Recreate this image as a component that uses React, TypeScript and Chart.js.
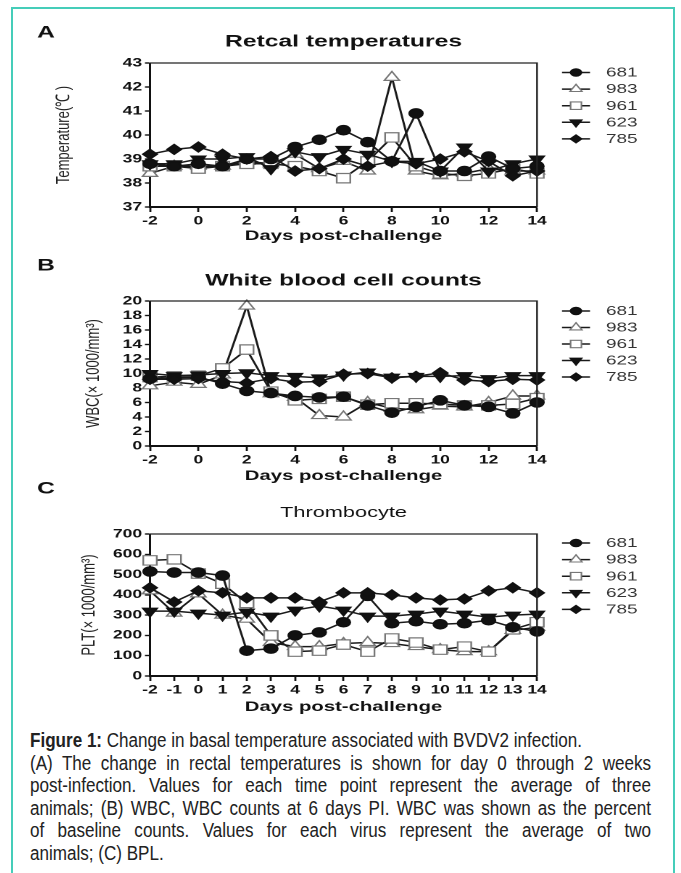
import React, { useEffect, useRef } from 'react';
import { Chart, registerables } from 'chart.js';

Chart.register(...registerables);

// ---------------- data ----------------
const DAYS = [-2, -1, 0, 1, 2, 3, 4, 5, 6, 7, 8, 9, 10, 11, 12, 13, 14];
const ANIMALS = ['681', '983', '961', '623', '785'];

const TEMP_681 = [38.8, 38.7, 38.8, 38.7, 39.0, 39.0, 39.5, 39.8, 40.2, 39.7, 38.9, 40.9, 38.5, 38.5, 39.1, 38.6, 38.7];
const TEMP_983 = [38.4, 38.7, 38.7, 38.7, 38.9, 38.8, 39.2, 38.6, 38.9, 38.5, 42.4, 38.5, 38.3, 38.4, 38.6, 38.5, 38.5];
const TEMP_961 = [38.7, 38.7, 38.6, 38.7, 38.8, 38.8, 38.7, 38.5, 38.2, 38.9, 39.9, 38.7, 38.4, 38.3, 38.4, 38.6, 38.4];
const TEMP_623 = [38.8, 38.8, 39.0, 39.0, 39.1, 38.6, 39.3, 39.1, 39.4, 39.2, 38.9, 38.9, 38.5, 39.5, 38.5, 38.8, 39.0];
const TEMP_785 = [39.2, 39.4, 39.5, 39.2, 39.0, 39.1, 38.5, 38.6, 39.0, 38.7, 38.9, 38.8, 39.0, 39.3, 38.9, 38.3, 38.5];

const WBC_681 = [9.3, 9.4, 9.5, 8.6, 7.6, 7.3, 6.9, 6.7, 6.8, 5.6, 4.6, 5.4, 6.3, 5.6, 5.4, 4.5, 6.0];
const WBC_983 = [8.3, 8.8, 8.5, 9.8, 19.3, 7.2, 6.7, 4.2, 4.0, 6.0, 5.2, 5.0, 5.5, 5.4, 6.0, 6.9, 6.9];
const WBC_961 = [9.5, 9.6, 9.7, 10.7, 13.3, 7.5, 6.3, 6.5, 6.8, 5.7, 5.9, 5.9, 5.8, 5.6, 5.6, 5.8, 6.6];
const WBC_623 = [10.0, 9.7, 9.8, 10.0, 10.1, 9.7, 9.6, 9.4, 9.8, 10.2, 9.5, 9.6, 9.6, 9.7, 9.3, 9.7, 9.7];
const WBC_785 = [9.2, 9.2, 9.3, 8.9, 8.7, 9.3, 8.8, 8.9, 9.9, 10.0, 9.4, 9.6, 10.1, 9.1, 8.9, 9.2, 9.1];

const PLT_681 = [515, 510, 510, 495, 125, 135, 200, 215, 265, 395, 260, 270, 255, 260, 275, 240, 220];
const PLT_983 = [420, 310, 405, 300, 280, 165, 145, 145, 160, 165, 160, 145, 130, 120, 120, 225, 240];
const PLT_961 = [570, 575, 505, 455, 360, 200, 120, 125, 155, 120, 185, 165, 130, 145, 120, 230, 265];
const PLT_623 = [320, 320, 310, 300, 315, 295, 325, 345, 325, 295, 295, 305, 320, 305, 290, 300, 305];
const PLT_785 = [435, 365, 420, 410, 385, 385, 385, 365, 410, 410, 400, 385, 375, 380, 420, 435, 410];

const CAPTION_LINES = [
  '(A) The change in rectal temperatures is shown for day 0 through 2 weeks',
  'post-infection. Values for each time point represent the average of three',
  'animals; (B) WBC, WBC counts at 6 days PI. WBC was shown as the percent',
  'of baseline counts. Values for each virus represent the average of two',
];

// ---------------- styles / layout ----------------
const FONT = '"Liberation Sans", Arial, Helvetica, sans-serif';
const STRETCH = 1.45;
const PAGE_LEFT = 30;
const CANVAS_W = 435;
const PLOT_LEFT_PAGE = 150;
const PLOT_RIGHT_PAGE = 537;
const CAPTION_SQUEEZE = 0.875;
const CAPTION_WIDTH = 621;
const toInt = (px: number) => (px - PAGE_LEFT) / STRETCH;

type MarkerStyle = { shape: string; r: number; fill: string; stroke: string; rot: number };
const MARKERS: MarkerStyle[] = [
  { shape: 'circle', r: 4.7, fill: '#111', stroke: '#111', rot: 0 },
  { shape: 'triangle', r: 6, fill: '#fff', stroke: '#777', rot: 0 },
  { shape: 'rect', r: 6.6, fill: '#fff', stroke: '#777', rot: 0 },
  { shape: 'triangle', r: 5.8, fill: '#111', stroke: '#111', rot: 180 },
  { shape: 'rectRot', r: 5, fill: '#111', stroke: '#111', rot: 0 },
];

type Panel = {
  letter: string;
  title: string;
  titleFont: string;
  yTitle: string;
  yMin: number;
  yMax: number;
  yStep: number;
  xStep: number;
  series: number[][];
  top: number;
  height: number;
  plotTop: number;
  plotBottom: number;
  letterY: number;
  titleY: number;
  xTitleY: number;
  yTitleX: number;
  legendTop: number;
  legendStep: number;
};

const PANELS: Panel[] = [
  {
    letter: 'A', title: 'Retcal temperatures', titleFont: `bold 17px ${FONT}`,
    yTitle: 'Temperature(\u2103 )', yMin: 37, yMax: 43, yStep: 1, xStep: 2,
    series: [TEMP_681, TEMP_983, TEMP_961, TEMP_623, TEMP_785],
    top: 18, height: 234, plotTop: 63, plotBottom: 207,
    letterY: 33, titleY: 42, xTitleY: 236, yTitleX: 64, legendTop: 72.5, legendStep: 16.6,
  },
  {
    letter: 'B', title: 'White blood cell counts', titleFont: `bold 17px ${FONT}`,
    yTitle: 'WBC(\u00d7 1000/mm\u00b3)', yMin: 0, yMax: 20, yStep: 2, xStep: 2,
    series: [WBC_681, WBC_983, WBC_961, WBC_623, WBC_785],
    top: 254, height: 234, plotTop: 301, plotBottom: 446,
    letterY: 266, titleY: 281, xTitleY: 476, yTitleX: 94, legendTop: 311, legendStep: 16.5,
  },
  {
    letter: 'C', title: 'Thrombocyte', titleFont: `15px ${FONT}`,
    yTitle: 'PLT(\u00d7 1000/mm\u00b3)', yMin: 0, yMax: 700, yStep: 100, xStep: 1,
    series: [PLT_681, PLT_983, PLT_961, PLT_623, PLT_785],
    top: 482, height: 236, plotTop: 534, plotBottom: 676,
    letterY: 489, titleY: 513, xTitleY: 707, yTitleX: 89, legendTop: 543, legendStep: 16.6,
  },
];

function pathMarker(ctx: CanvasRenderingContext2D, m: MarkerStyle, x: number, y: number, r: number) {
  ctx.beginPath();
  if (m.shape === 'circle') {
    ctx.arc(x, y, r, 0, Math.PI * 2);
  } else if (m.shape === 'triangle') {
    let rad = (m.rot * Math.PI) / 180;
    ctx.moveTo(x + Math.sin(rad) * r, y - Math.cos(rad) * r);
    rad += (2 * Math.PI) / 3;
    ctx.lineTo(x + Math.sin(rad) * r, y - Math.cos(rad) * r);
    rad += (2 * Math.PI) / 3;
    ctx.lineTo(x + Math.sin(rad) * r, y - Math.cos(rad) * r);
    ctx.closePath();
  } else if (m.shape === 'rect') {
    const s = Math.SQRT1_2 * r;
    ctx.rect(x - s, y - s, 2 * s, 2 * s);
  } else {
    ctx.moveTo(x - r, y);
    ctx.lineTo(x, y - r);
    ctx.lineTo(x + r, y);
    ctx.lineTo(x, y + r);
    ctx.closePath();
  }
}

function PanelChart({ panel }: { panel: Panel }) {
  const ref = useRef<HTMLCanvasElement | null>(null);
  useEffect(() => {
    if (!ref.current) return;
    const p = panel;
    const plotLeft = toInt(PLOT_LEFT_PAGE);
    const plotRight = toInt(PLOT_RIGHT_PAGE);
    const yTitleCenter = toInt(p.yTitleX);
    const xAxisHeight = p.height - (p.plotBottom - p.top);
    const xTitleFromBottom = p.top + p.height - p.xTitleY;

    const datasets = ANIMALS.map((name, i) => {
      const m = MARKERS[i];
      return {
        label: name,
        data: DAYS.map((d, j) => ({ x: d, y: p.series[i][j] })),
        borderColor: '#1a1a1a',
        borderWidth: 1.5,
        pointStyle: m.shape as any,
        pointRadius: m.r,
        pointRotation: m.rot,
        pointBackgroundColor: m.fill,
        pointBorderColor: m.stroke,
        pointBorderWidth: 1.2,
        tension: 0,
        clip: false as any,
        order: [2, 5, 4, 3, 1][i],
      };
    });

    const decor = {
      id: 'decor',
      afterDraw(chart: any) {
        const ctx: CanvasRenderingContext2D = chart.ctx;
        const a = chart.chartArea;
        ctx.save();
        ctx.strokeStyle = '#222';
        ctx.lineWidth = 1.2;
        ctx.beginPath();
        ctx.moveTo(a.left, a.top);
        ctx.lineTo(a.right, a.top);
        ctx.lineTo(a.right, a.bottom);
        ctx.stroke();
        ctx.fillStyle = '#111';
        ctx.textBaseline = 'middle';
        ctx.textAlign = 'left';
        ctx.font = `bold 17px ${FONT}`;
        ctx.fillText(p.letter, toInt(37), p.letterY - p.top);
        ctx.font = p.titleFont;
        ctx.textAlign = 'center';
        ctx.fillText(p.title, (a.left + a.right) / 2, p.titleY - p.top);
        const lx0 = toInt(562);
        const lx1 = toInt(590);
        const tx = toInt(606);
        ctx.font = `13px ${FONT}`;
        ctx.textAlign = 'left';
        ANIMALS.forEach((name, i) => {
          const y = p.legendTop + i * p.legendStep - p.top;
          ctx.strokeStyle = '#1a1a1a';
          ctx.lineWidth = 1.5;
          ctx.beginPath();
          ctx.moveTo(lx0, y);
          ctx.lineTo(lx1, y);
          ctx.stroke();
          const m = MARKERS[i];
          pathMarker(ctx, m, (lx0 + lx1) / 2, y, m.r * 0.8);
          ctx.fillStyle = m.fill;
          ctx.fill();
          ctx.strokeStyle = m.stroke;
          ctx.lineWidth = 1.1;
          ctx.stroke();
          ctx.fillStyle = '#333';
          ctx.fillText(name, tx, y + 0.5);
        });
        ctx.restore();
      },
    };

    const chart = new Chart(ref.current, {
      type: 'line',
      data: { datasets },
      options: {
        animation: false,
        responsive: false,
        maintainAspectRatio: false,
        devicePixelRatio: 2,
        layout: {
          padding: { left: 0, top: p.plotTop - p.top, right: CANVAS_W - plotRight, bottom: 0 },
        },
        plugins: { legend: { display: false }, title: { display: false }, tooltip: { enabled: false } },
        scales: {
          x: {
            type: 'linear',
            min: -2,
            max: 14,
            offset: false,
            afterFit: (s: any) => { s.height = xAxisHeight; },
            ticks: {
              stepSize: p.xStep,
              autoSkip: false,
              maxRotation: 0,
              padding: 2,
              color: '#111',
              font: { family: FONT, size: 12, weight: 'bold' },
            },
            grid: { drawOnChartArea: false, drawTicks: true, tickLength: 5, tickWidth: 1.4, tickColor: '#111' },
            border: { display: true, color: '#111', width: 2 },
            title: {
              display: true,
              text: 'Days post-challenge',
              color: '#111',
              font: { family: FONT, size: 14, weight: 'bold', lineHeight: 1 },
              padding: { top: 0, bottom: xTitleFromBottom - 7 },
            },
          },
          y: {
            type: 'linear',
            min: p.yMin,
            max: p.yMax,
            afterFit: (s: any) => { s.width = plotLeft; },
            ticks: {
              stepSize: p.yStep,
              autoSkip: false,
              padding: 2,
              color: '#111',
              font: { family: FONT, size: 12, weight: 'bold' },
            },
            grid: { drawOnChartArea: false, drawTicks: true, tickLength: 3.5, tickWidth: 1.4, tickColor: '#111' },
            border: { display: true, color: '#111', width: 1.5 },
            title: {
              display: true,
              text: p.yTitle,
              color: '#222',
              font: { family: FONT, size: 13, lineHeight: 1 },
              padding: { top: yTitleCenter - 6.5, bottom: 0 },
            },
          },
        },
      },
      plugins: [decor],
    } as any);
    return () => chart.destroy();
  }, [panel]);

  return (
    <div
      style={{
        position: 'absolute',
        left: PAGE_LEFT,
        top: panel.top,
        width: CANVAS_W,
        height: panel.height,
        transform: `scaleX(${STRETCH})`,
        transformOrigin: '0 0',
      }}
    >
      <canvas ref={ref} width={CANVAS_W} height={panel.height} style={{ display: 'block' }} />
    </div>
  );
}

export default function App() {
  return (
    <div style={{ position: 'absolute', left: 0, top: 0, width: 681, height: 873, overflow: 'hidden', background: '#fff' }}>
      <div
        style={{
          position: 'absolute', left: 11, top: 7, width: 660, height: 880,
          borderTop: '2px solid #45cdb9', borderLeft: '2px solid #45cdb9', borderRight: '2px solid #45cdb9',
        }}
      />
      {PANELS.map((p) => (
        <PanelChart key={p.letter} panel={p} />
      ))}
      <div
        style={{
          position: 'absolute', left: 30, top: 729, width: CAPTION_WIDTH / CAPTION_SQUEEZE,
          transform: `scaleX(${CAPTION_SQUEEZE})`, transformOrigin: '0 0',
          fontFamily: FONT, fontSize: 19.5, lineHeight: '22.6px', color: '#222',
        }}
      >
        <div style={{ whiteSpace: 'nowrap' }}>
          <b>Figure 1:</b> Change in basal temperature associated with BVDV2 infection.
        </div>
        {CAPTION_LINES.map((l, i) => (
          <div key={i} style={{ textAlign: 'justify', textAlignLast: 'justify' }}>{l}</div>
        ))}
        <div>animals; (C) BPL.</div>
      </div>
    </div>
  );
}
